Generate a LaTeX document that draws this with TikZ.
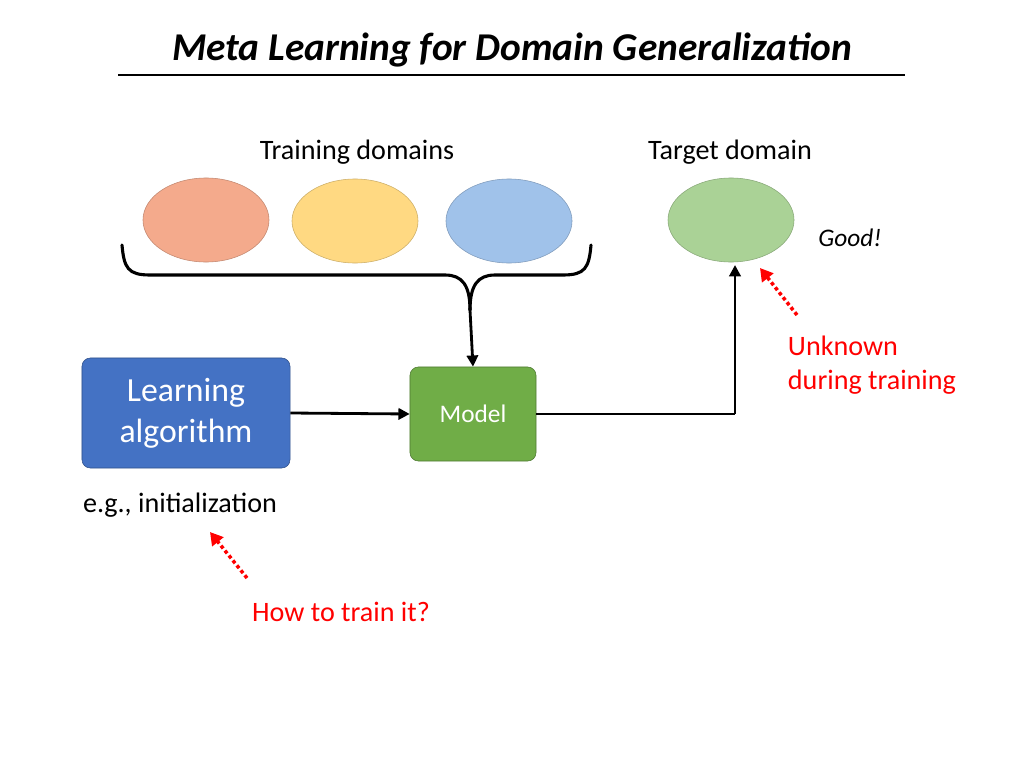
\documentclass[tikz,border=0pt]{standalone}
\usepackage{fontspec}
\setmainfont{Carlito}
\usetikzlibrary{arrows.meta,shapes.geometric}

\definecolor{orangedom}{RGB}{244,170,140}
\definecolor{yellowdom}{RGB}{255,217,130}
\definecolor{bluedom}{RGB}{160,194,234}
\definecolor{greendom}{RGB}{170,210,150}
\definecolor{algblue}{RGB}{68,114,196}
\definecolor{modelgreen}{RGB}{112,173,71}

\tikzset{
  domain/.style={ellipse, minimum width=3.15cm, minimum height=2.1cm, draw=#1!80!black, line width=0.4pt, fill=#1},
  box/.style={rounded corners=6pt, text=white, align=center, draw=#1!70!black, fill=#1},
  flow/.style={line width=2pt, -{Triangle[length=8pt,width=8pt]}},
  hint/.style={red, line width=2.5pt, dotted, -{Triangle[length=9pt,width=10pt]}},
  label/.style={font=\fontsize{20}{24}\selectfont}
}

\begin{document}
\begin{tikzpicture}[x=0.025cm, y=-0.025cm]
\useasboundingbox (0,0) rectangle (1024,768);

\node [font=\fontsize{28}{32}\selectfont\bfseries\itshape] at (512,50) (title) {Meta Learning for Domain Generalization};
\draw [line width=0.8pt] (118,75) -- (905,75);

\node [label] at (357,152) (train) {Training domains};
\node [label] at (730,152) (target) {Target domain};
%
\node [domain=orangedom] at (206,220) (d1) {};
\node [domain=yellowdom] at (355,221) (d2) {};
\node [domain=bluedom] at (509,221) (d3) {};
\node [domain=greendom] at (731,220) (d4) {};
\node [font=\fontsize{18}{22}\selectfont\itshape] at (850,238) (good) {Good!};
%
\draw [line width=2.2pt, line cap=round] (122,245) .. controls (124,268) and (128,275) .. (150,275) -- (445,275)
      .. controls (462,275) and (470,285) .. (470,310);
\draw [line width=2.2pt, line cap=round] (591,245) .. controls (589,268) and (585,275) .. (563,275) -- (495,275)
      .. controls (478,275) and (470,285) .. (470,310);
\coordinate (brace) at (470,310);

\node [box=algblue, minimum width=5.2cm, minimum height=2.75cm, font=\fontsize{24}{29}\selectfont] at (186,413) (alg) {Learning\\algorithm};
\node [box=modelgreen, minimum width=3.15cm, minimum height=2.35cm, font=\fontsize{18}{22}\selectfont] at (473,414) (model) {Model};
\coordinate (up) at (735,414);
%
\draw [flow] (brace) -- (model.north);
\draw [flow] (alg.east) -- (model.west);
\draw [line width=2pt] (model.east) -- (up);
\draw [flow] (up) -- (735,265);

\node [label, red, align=left, anchor=west] at (783,365) (unknown) {Unknown\\during training};
\node [label] at (180,505) (eg) {e.g., initialization};
\node [label, red] at (341,612) (how) {How to train it?};
%
\draw [hint] (797,315) -- (760,268);
\draw [hint] (247,578) -- (210,532);
\end{tikzpicture}
\end{document}
